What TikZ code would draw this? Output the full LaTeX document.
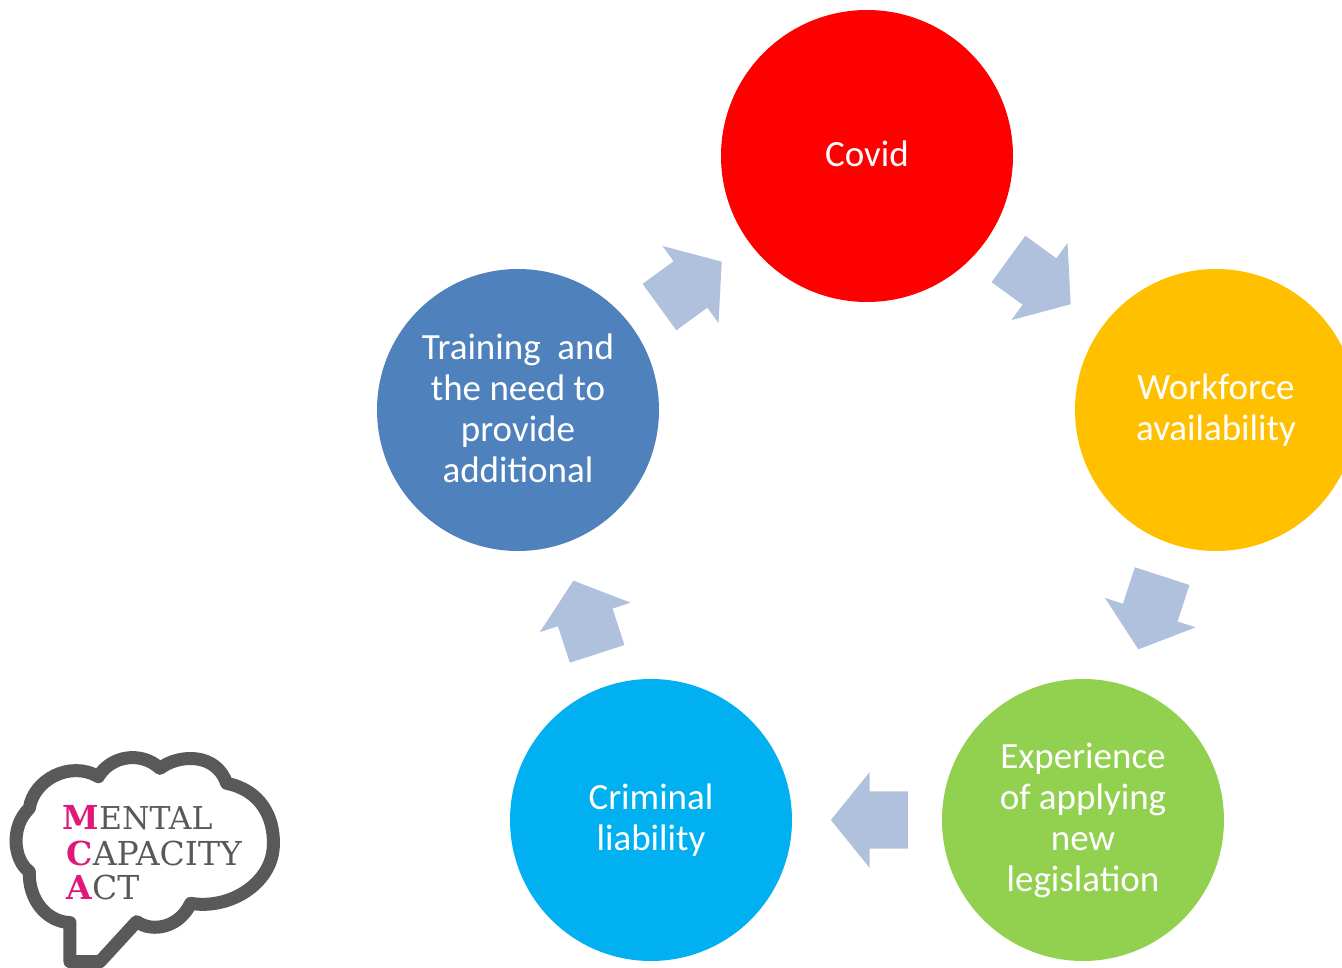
\documentclass[tikz,border=0pt]{standalone}
\usepackage{fontspec}
\setmainfont{Carlito}
\newfontfamily\logofont{DejaVu Serif}
\usetikzlibrary{shapes.arrows, positioning}
\definecolor{covidred}{HTML}{FF0000}
\definecolor{workamber}{HTML}{FFC000}
\definecolor{expgreen}{HTML}{92D050}
\definecolor{crimblue}{HTML}{00B0F0}
\definecolor{trainblue}{HTML}{4F81BD}
\definecolor{flowblue}{HTML}{B0C1DD}
\definecolor{logogrey}{HTML}{595959}
\definecolor{logopink}{HTML}{E0187A}
\begin{document}
\begin{tikzpicture}[x=1pt, y=-1pt]
        \tikzstyle{phase} = [circle, text=white, align=center, inner sep=0pt, minimum size=282pt, font=\fontsize{37}{41}\selectfont]
        \tikzstyle{flow} = [single arrow, fill=flowblue, inner xsep=0pt, inner ysep=28.5pt, minimum height=77pt, single arrow head extend=19pt, single arrow tip angle=102, sloped, allow upside down, xshift=-14pt]
        \tikzstyle{logoword} = [anchor=base west, inner sep=0pt, text=logogrey, font=\logofont\fontsize{33}{33}\selectfont]
        \tikzstyle{logoinitial} = [anchor=base west, inner sep=0pt, text=logopink, font=\logofont\bfseries\fontsize{33}{33}\selectfont]

        \useasboundingbox (0,0) rectangle (1342,968);

        \node[phase, fill=covidred, minimum size=292pt, text depth=4pt] (covid) at (867,156) {Covid};
        \node[phase, fill=workamber] (workforce) at (1216,410) {Workforce\\availability};
        \node[phase, fill=expgreen] (experience) at (1083,820) {Experience\\of applying\\new\\legislation};
        \node[phase, fill=crimblue] (criminal) at (651,820) {Criminal\\liability};
        \node[phase, fill=trainblue, text depth=4pt] (training) at (518,410) {Training\ \ and\\the need to\\provide\\additional};

        \foreach \from/\to in {covid/workforce, workforce/experience, experience/criminal, criminal/training, training/covid}{
            \path (\from.center) -- node[flow] (\from arrow) {} (\to.center);
        }

        \begin{scope}[shift={(0,740)}, x=0.3333pt, y=-0.3333pt]
            \draw[logogrey, line width=13pt, line join=round] (210,665) -- (210,548)
                .. controls (140,545) and (85,480) .. (88,395)
                .. controls (40,360) and (30,260) .. (88,205)
                .. controls (100,120) and (210,60) .. (295,110)
                .. controls (330,50) and (420,30) .. (480,85)
                .. controls (540,40) and (650,40) .. (680,130)
                .. controls (780,150) and (825,230) .. (820,320)
                .. controls (815,430) and (690,510) .. (572,490)
                .. controls (540,560) and (460,580) .. (410,545)
                -- (300,665) -- cycle;
        \end{scope}

        \node[logoinitial] (initialm) at (62,829) {M};
        \node[logoword, font=\logofont\fontsize{31.5}{32}\selectfont, right=0pt of initialm.base east, anchor=base west] (wordm) {ENTAL};
        \node[logoinitial] (initialc) at (66,865) {C};
        \node[logoword, right=0pt of initialc.base east, anchor=base west] (wordc) {APACITY};
        \node[logoinitial] (initiala) at (66,899) {A};
        \node[logoword, right=0pt of initiala.base east, anchor=base west] (worda) {CT};
\end{tikzpicture}
\end{document}
